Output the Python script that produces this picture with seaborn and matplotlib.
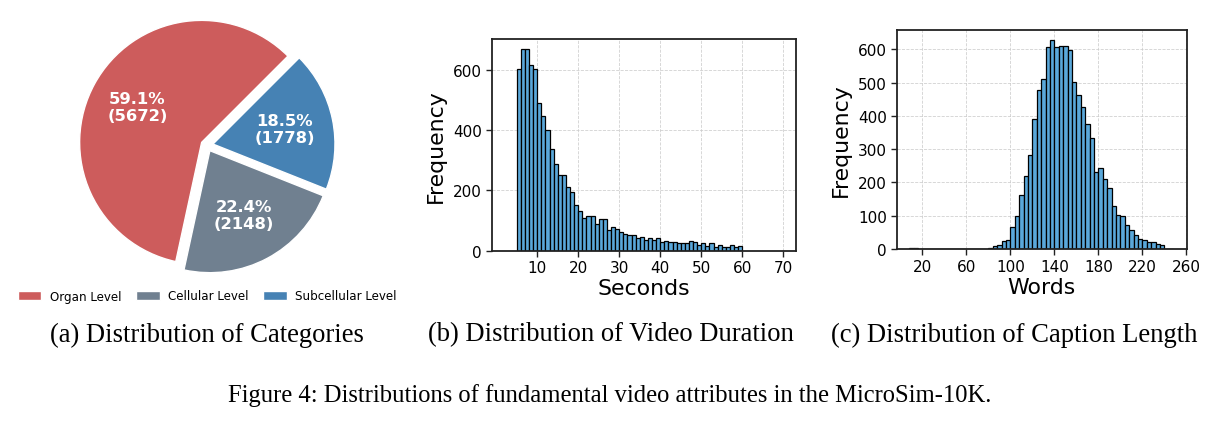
import numpy as np
import pandas as pd
import matplotlib
matplotlib.use("Agg")
import matplotlib.pyplot as plt
import seaborn as sns

# ---------------- data ----------------
categories = ["Organ Level", "Cellular Level", "Subcellular Level"]
category_counts = [5672, 2148, 1778]
category_colors = ["#CD5C5C", "#708090", "#4682B4"]

duration_edges = list(range(5, 61))  # 1-second bins, 5..60
duration_counts = [602, 668, 668, 615, 601, 488, 447, 400, 338, 286,
                   250, 250, 211, 193, 153, 133, 107, 115, 115, 90,
                   105, 105, 70, 77, 72, 63, 56, 53, 52, 43,
                   45, 34, 43, 34, 41, 29, 31, 28, 29, 25,
                   27, 24, 33, 30, 20, 24, 17, 24, 11, 20,
                   11, 12, 18, 11, 15]

caption_edges = list(range(8, 249, 4))  # 4-word bins, 8..248
caption_counts = [2, 2, 1, 0, 0, 0, 0, 0, 0, 1,
                  1, 1, 0, 0, 0, 0, 1, 1, 3, 8,
                  12, 23, 27, 65, 98, 161, 218, 282, 392, 477,
                  511, 608, 627, 606, 610, 610, 598, 502, 464, 426,
                  377, 334, 230, 245, 210, 183, 130, 102, 100, 72,
                  58, 41, 30, 28, 20, 20, 16, 11, 0, 0]

duration_ticks = [10, 20, 30, 40, 50, 60, 70]
duration_yticks = [0, 200, 400, 600]
caption_ticks = [20, 60, 100, 140, 180, 220, 260]
caption_yticks = [0, 100, 200, 300, 400, 500, 600]

subcaptions = ["(a) Distribution of Categories",
               "(b) Distribution of Video Duration",
               "(c) Distribution of Caption Length"]
figure_caption = "Figure 4: Distributions of fundamental video attributes in the MicroSim-10K."

# ---------------- style ----------------
sns.set_theme(style="white")
plt.rcParams["font.family"] = ["DejaVu Sans"]
for k in ["text.color", "axes.labelcolor", "xtick.color", "ytick.color"]:
    plt.rcParams[k] = "black"

W, H = 1221, 427
fig = plt.figure(figsize=(W / 100, H / 100), dpi=100)


def px_axes(left, top, right, bottom):
    return fig.add_axes([left / W, 1 - bottom / H, (right - left) / W, (bottom - top) / H])


bar_color = "#5aa8da"

# ---------------- (a) pie ----------------
axp = px_axes(50, 10, 364, 282)
total = sum(category_counts)


def fmt(p):
    n = int(round(p * total / 100.0))
    return f"{p:.1f}%\n({n})"


wedges, _, autotexts = axp.pie(category_counts, colors=category_colors, startangle=45,
                               explode=[0.05, 0.05, 0.05], autopct=fmt, pctdistance=0.6,
                               textprops=dict(color="white", fontsize=11.8, fontweight="bold"))
for t in autotexts:
    t.set_linespacing(1.15)
axp.set_aspect("auto")
ppu = 122.0
cx, cy = 207 - 50, 146.3 - 10
axp.set_xlim(-cx / ppu, (314 - cx) / ppu)
axp.set_ylim(-(272 - cy) / ppu, cy / ppu)
axp.axis("off")

fig.legend(wedges, categories, loc="center", bbox_to_anchor=(207 / W, 1 - 297 / H),
           ncol=3, frameon=False, fontsize=8.6, columnspacing=1.2, handletextpad=0.7,
           labelcolor="black")


# ---------------- histograms ----------------
def style_hist(ax, xlabel, xticks, yticks, xlim):
    ax.set_xlim(*xlim)
    ax.set_xticks(xticks)
    ax.set_yticks(yticks)
    ax.set_xlabel(xlabel, fontsize=15.8, labelpad=2, color="black")
    ax.set_ylabel("Frequency", fontsize=15.8, labelpad=5, color="black")
    ax.tick_params(axis="both", labelsize=11, length=4, width=1, color="#222222",
                   labelcolor="black", direction="out", bottom=True, left=True, pad=3)
    ax.grid(True, linestyle="--", linewidth=0.6, color="#cccccc", alpha=0.9)
    ax.set_axisbelow(True)
    for s in ax.spines.values():
        s.set_visible(True)
        s.set_linewidth(1.3)
        s.set_color("#222222")


def draw_hist(ax, edges, counts):
    e = np.array(edges, dtype=float)
    df = pd.DataFrame({"value": (e[:-1] + e[1:]) / 2, "count": np.array(counts, dtype=float)})
    sns.histplot(data=df, x="value", weights="count", bins=len(counts),
                 binrange=(float(e[0]), float(e[-1])), ax=ax,
                 color=bar_color, edgecolor="black", linewidth=0.9, alpha=1)


axb = px_axes(491.7, 40, 796, 251.7)
draw_hist(axb, duration_edges, duration_counts)
style_hist(axb, "Seconds", duration_ticks, duration_yticks, (-1.1, 73.1))

axc = px_axes(896.7, 31, 1187, 250)
draw_hist(axc, caption_edges, caption_counts)
style_hist(axc, "Words", caption_ticks, caption_yticks, (-3.3, 260.6))

# ---------------- captions ----------------
serif = ["Liberation Serif", "DejaVu Serif"]
for x, s in zip([207, 611, 1014], subcaptions):
    fig.text(x / W, 1 - 335 / H, s, ha="center", va="center", fontsize=19.2, family=serif,
             color="black")
fig.text(610 / W, 1 - 396 / H, figure_caption, ha="center", va="center", fontsize=17.7,
         family=serif, color="black")

fig.savefig("out.png", dpi=100)
